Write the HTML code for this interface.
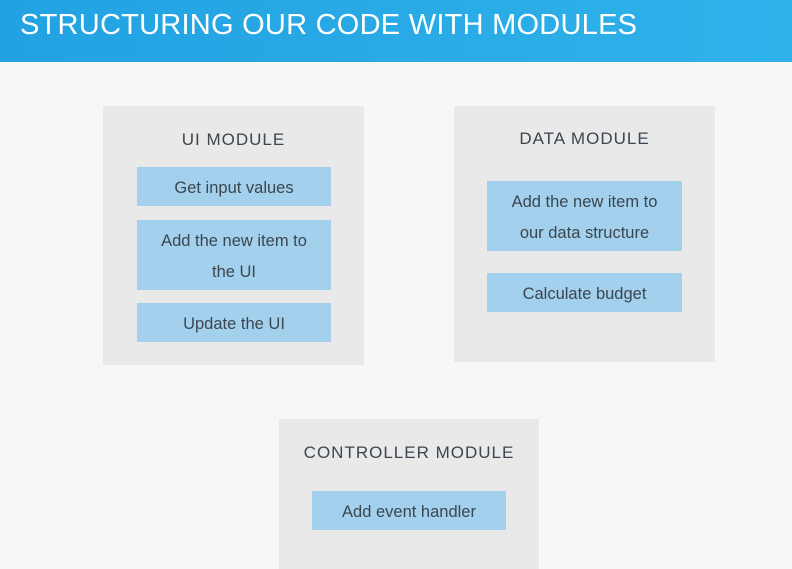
<!DOCTYPE html>
<html><head><style>
body{margin:0;width:792px;height:561px;background:#f7f7f7;overflow:hidden;position:relative;font-family:"Liberation Sans",sans-serif;}
.hdr{position:absolute;left:0;top:0;width:792px;height:62px;background:linear-gradient(90deg,#22a2e2,#2fb2ea);}
.hdr span{position:absolute;left:20px;top:9px;color:#fff;font-size:29px;letter-spacing:0.25px;}
.box{position:absolute;background:#e9e9e9;}
.t{position:absolute;left:0;right:0;text-align:center;color:#3b4650;font-size:17px;letter-spacing:1px;}
.i{position:absolute;background:#a3d0ec;color:#3b4650;font-size:16.5px;text-align:center;display:flex;align-items:center;justify-content:center;line-height:31px;padding-top:3px;box-sizing:border-box;}
</style></head><body>
<div class="hdr"><span>STRUCTURING OUR CODE WITH MODULES</span></div>
<div class="box" style="left:103px;top:106px;width:261px;height:259px">
<div class="t" style="top:24px">UI MODULE</div>
<div class="i" style="left:34px;top:61px;width:194px;height:39px">Get input values</div>
<div class="i" style="left:34px;top:114px;width:194px;height:70px">Add the new item to<br>the UI</div>
<div class="i" style="left:34px;top:197px;width:194px;height:39px">Update the UI</div>
</div>
<div class="box" style="left:454px;top:106px;width:261px;height:256px">
<div class="t" style="top:23px">DATA MODULE</div>
<div class="i" style="left:33px;top:75px;width:195px;height:70px">Add the new item to<br>our data structure</div>
<div class="i" style="left:33px;top:167px;width:195px;height:39px">Calculate budget</div>
</div>
<div class="box" style="left:279px;top:419px;width:260px;height:150px">
<div class="t" style="top:24px">CONTROLLER MODULE</div>
<div class="i" style="left:33px;top:72px;width:194px;height:39px">Add event handler</div>
</div>
</body></html>
